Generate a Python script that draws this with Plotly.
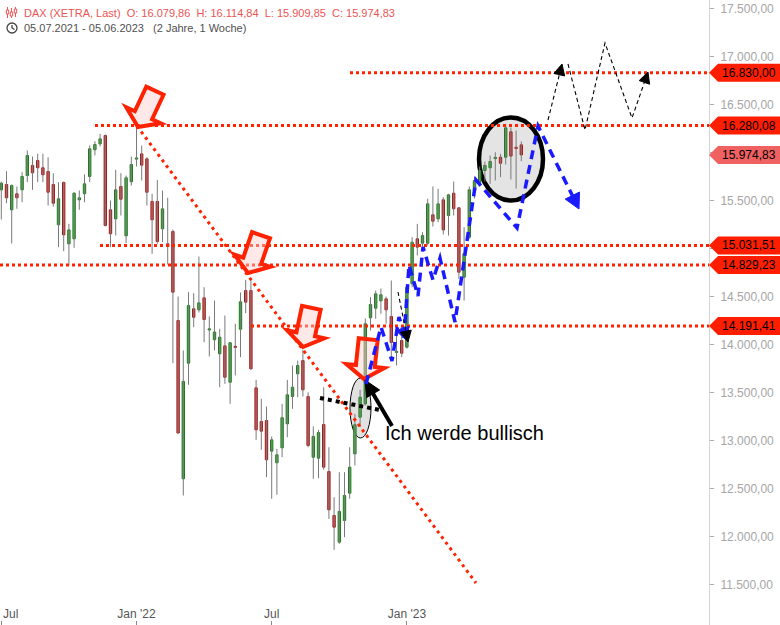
import math
import pandas as pd
import plotly.graph_objects as go

# ---------------- data (weekly DAX candles) ----------------
week_start = "2021-07-05"
opens = [15611, 15667, 15403, 15570, 15611, 15760, 15865, 15917, 15841, 15802,
         15667, 15247, 15688, 15049, 15101, 15507, 15570, 15750, 16028, 16090,
         16177, 15403, 15309, 15646, 15132, 15695, 15931, 15986, 15934, 15490,
         15490, 15205, 15049, 15177, 14250, 12601, 13805, 14372, 14361, 14486,
         14151, 14049, 13903, 13986, 13607, 13974, 14159, 14562, 14562, 13549,
         13198, 13208, 12889, 12768, 12924, 13174, 13458, 13695, 13833, 13458,
         12826, 12816, 13167, 12677, 12219, 11941, 12167, 12451, 12861, 13243,
         13382, 14278, 14378, 14455, 14476, 14292, 13917, 14042, 13972, 14632,
         15101, 15055, 15055, 15351, 15309, 15507, 15344, 15576, 15424, 14701,
         15118, 15604, 15691, 15812, 15841, 15937, 15951, 15951, 16216, 16052,
         16079.86]
highs = [15698, 15805, 15667, 15646, 15795, 16021, 15958, 15987, 15987, 15951,
         15784, 15691, 15698, 15257, 15586, 15604, 15771, 16073, 16118, 16194,
         16187, 15500, 15820, 15784, 15760, 15958, 16280, 16073, 15951, 15570,
         15715, 15604, 15528, 15198, 14500, 13938, 14545, 14534, 14917, 14597,
         14292, 14458, 14163, 14302, 14024, 14216, 14542, 14674, 14684, 13632,
         13434, 13354, 13042, 12913, 13382, 13632, 13781, 13833, 13945, 13503,
         13146, 13111, 13555, 12930, 12409, 12670, 12670, 12930, 13278, 13528,
         14271, 14493, 14562, 14583, 14500, 14667, 14115, 14115, 14615, 15118,
         15257, 15170, 15518, 15646, 15622, 15534, 15570, 15698, 15430, 15222,
         15646, 15750, 15854, 15906, 15969, 16003, 15986, 16299, 16260, 16229,
         16114.84]
lows = [15302, 15472, 15052, 15414, 15482, 15691, 15611, 15691, 15691, 15448,
        15437, 15014, 14972, 14823, 15007, 15403, 15482, 15691, 15969, 16062,
        15229, 15014, 15135, 15344, 15055, 15656, 15854, 15708, 15448, 14945,
        15049, 15066, 14833, 13805, 13073, 12427, 13580, 14180, 14333, 14024,
        13875, 13938, 13555, 13590, 13382, 13677, 13868, 14326, 13736, 13007,
        12903, 12618, 12393, 12434, 12826, 13034, 13330, 13451, 13458, 12930,
        12601, 12607, 12695, 12184, 11861, 11924, 11993, 12393, 12740, 13139,
        13365, 14146, 14268, 14320, 14216, 13833, 13781, 13868, 13958, 14597,
        14927, 15014, 15031, 15229, 15274, 15146, 15135, 15344, 14684, 14458,
        15101, 15521, 15646, 15698, 15674, 15708, 15743, 15875, 15719, 15625,
        15909.85]
closes = [15680, 15528, 15656, 15528, 15750, 15969, 15789, 15841, 15768, 15586,
          15472, 15518, 15142, 15194, 15576, 15528, 15674, 16038, 16083, 16142,
          15240, 15153, 15611, 15513, 15736, 15875, 15937, 15868, 15586, 15299,
          15073, 15413, 15021, 14545, 13078, 13615, 14406, 14284, 14434, 14260,
          14156, 14130, 14076, 13659, 14018, 13969, 14445, 14441, 13747, 13111,
          13097, 12799, 13007, 12851, 13237, 13476, 13555, 13781, 13528, 12948,
          13042, 13083, 12722, 12278, 12097, 12261, 12427, 12722, 13164, 13451,
          14216, 14417, 14528, 14518, 14361, 14021, 13927, 13909, 14597, 15065,
          15014, 15135, 15465, 15284, 15465, 15194, 15559, 15414, 14753, 14945,
          15611, 15708, 15812, 15865, 15906, 15948, 15888, 16257, 15963, 16042,
          15974.83]

levels = [16830.00, 16280.08, 15974.83, 15031.51, 14829.23, 14191.41]
y_tick_values = list(range(11500, 18000, 500))
x_tick_dates = ["2021-07-05", "2022-01-03", "2022-07-04", "2023-01-02"]
x_tick_text = ["Jul", "Jan '22", "Jul", "Jan '23"]
period_text = "05.07.2021 - 05.06.2023"
period_len = "(2 Jahre, 1 Woche)"
note_text = "Ich werde bullisch"

# ---------------- helpers ----------------
def de(v):
    s = f"{v:,.2f}"
    return s.replace(",", "X").replace(".", ",").replace("X", ".")

dates = pd.date_range(week_start, periods=len(opens), freq="7D")

W_PLOT, H_PLOT = 709, 625          # plot area in pixels
PX_PER_DAY = 5.2 / 7.0
x_start = pd.Timestamp(week_start) - pd.Timedelta(days=1.3 / PX_PER_DAY)
x_end = x_start + pd.Timedelta(days=W_PLOT / PX_PER_DAY)
Y_TOP = 17500 + 8.5 / 0.096
Y_BOT = Y_TOP - H_PLOT / 0.096
PRICE_PER_PX = 1 / 0.096


def P(x, y):
    return x / W_PLOT, 1 - y / H_PLOT


def path_of(points, close=False):
    parts = []
    for i, (x, y) in enumerate(points):
        px, py = P(x, y)
        parts.append(("M" if i == 0 else "L") + f"{px:.5f},{py:.5f}")
    s = " ".join(parts)
    return s + (" Z" if close else "")


def arrow_head(tip, frm, length, half):
    dx, dy = tip[0] - frm[0], tip[1] - frm[1]
    n = math.hypot(dx, dy)
    ux, uy = dx / n, dy / n
    bx, by = tip[0] - length * ux, tip[1] - length * uy
    vx, vy = -uy, ux
    return [tip, (bx + half * vx, by + half * vy), (bx - half * vx, by - half * vy)], (bx, by)


shapes = []
annotations = []

# ---------------- ellipses (below the candles) ----------------
for cx, cy, rx, ry, fill, lw in [(511, 159, 32, 41.5, "#e4e4e4", 4.5),
                                 (360.5, 408, 10.5, 30, "rgba(205,205,205,0.6)", 1)]:
    x0, y1 = P(cx - rx, cy - ry)
    x1, y0 = P(cx + rx, cy + ry)
    shapes.append(dict(type="circle", xref="paper", yref="paper", x0=x0, x1=x1, y0=y0, y1=y1,
                       fillcolor=fill, line=dict(color="black", width=lw), layer="below"))

# ---------------- horizontal support / resistance lines ----------------
line_start_px = {16830.00: 350, 16280.08: 95, 15031.51: 100, 14829.23: 0, 14191.41: 251}
for lv, sx in line_start_px.items():
    shapes.append(dict(type="line", xref="paper", yref="y", x0=sx / W_PLOT, x1=1, y0=lv, y1=lv,
                       line=dict(color="#ff2200", width=3, dash="dot")))

# diagonal trend line
x0, y0 = P(137, 126)
x1, y1 = P(476, 583)
shapes.append(dict(type="line", xref="paper", yref="paper", x0=x0, y0=y0, x1=x1, y1=y1,
                   line=dict(color="#ff2200", width=3, dash="3px,4px")))

# ---------------- red block arrows ----------------
for tx, ty, ang in [(138, 127, 25), (248, 273, 19), (303, 347, 12), (364, 379, 6)]:
    a = math.radians(ang)
    ux, uy = -math.sin(a), math.cos(a)
    vx, vy = math.cos(a), math.sin(a)
    bx, by = tx - 13 * ux, ty - 13 * uy
    sx, sy = tx - 40 * ux, ty - 40 * uy
    pts = [(tx, ty), (bx + 19 * vx, by + 19 * vy), (bx + 9.5 * vx, by + 9.5 * vy),
           (sx + 9.5 * vx, sy + 9.5 * vy), (sx - 9.5 * vx, sy - 9.5 * vy),
           (bx - 9.5 * vx, by - 9.5 * vy), (bx - 19 * vx, by - 19 * vy)]
    shapes.append(dict(type="path", xref="paper", yref="paper", path=path_of(pts, True),
                       fillcolor="rgba(255,205,205,0.45)", line=dict(color="#ff2200", width=4)))

# ---------------- black dotted line & black arrow ----------------
x0, y0 = P(320, 398)
x1, y1 = P(380, 410)
shapes.append(dict(type="line", xref="paper", yref="paper", x0=x0, y0=y0, x1=x1, y1=y1,
                   line=dict(color="black", width=4, dash="4px,4px")))
head, base = arrow_head((365, 380), (392, 426), 16, 7.5)
shapes.append(dict(type="path", xref="paper", yref="paper", path=path_of([(392, 426), base]),
                   line=dict(color="black", width=4)))
shapes.append(dict(type="path", xref="paper", yref="paper", path=path_of(head, True),
                   fillcolor="black", line=dict(color="black", width=1)))

# ---------------- blue dashed zig-zags ----------------
BLUE = "#1a1aff"
for pts, hl, hw in [
    ([(366, 384), (381, 327), (392, 361), (399, 317), (406, 340)], 12, 7),
    ([(404, 338), (409, 265), (418, 296), (423, 247), (433, 280), (440, 258), (455, 322),
      (476, 180), (517, 228), (538, 126), (579, 209)], 15, 8),
]:
    head, base = arrow_head(pts[-1], pts[-2], hl, hw)
    shapes.append(dict(type="path", xref="paper", yref="paper", path=path_of(pts[:-1] + [base]),
                       line=dict(color=BLUE, width=3.5, dash="9px,6px")))
    shapes.append(dict(type="path", xref="paper", yref="paper", path=path_of(head, True),
                       fillcolor=BLUE, line=dict(color=BLUE, width=1)))

# ---------------- thin black dashed projections ----------------
for pts in [
    [(398, 292), (408, 342)],
    [(548, 120), (562, 64)],
    [(568, 64), (585, 130), (605, 43), (632, 118), (648, 72)],
]:
    head, base = arrow_head(pts[-1], pts[-2], 11, 5.5)
    shapes.append(dict(type="path", xref="paper", yref="paper", path=path_of(pts[:-1] + [base]),
                       line=dict(color="black", width=1.1, dash="4px,3px")))
    shapes.append(dict(type="path", xref="paper", yref="paper", path=path_of(head, True),
                       fillcolor="black", line=dict(color="black", width=1)))

# ---------------- price tags on the right ----------------
half_h = 9 * PRICE_PER_PX
for lv in levels:
    col = "#f06262" if lv == closes[-1] else "#ff1e00"
    pts = [(709.0, 0), (718.0, -1), (780.0, -1), (780.0, 1), (718.0, 1)]
    path = " ".join(("M" if i == 0 else "L") + f"{x / W_PLOT:.5f},{lv + s * half_h:.3f}"
                    for i, (x, s) in enumerate(pts)) + " Z"
    shapes.append(dict(type="path", xref="paper", yref="y", path=path,
                       fillcolor=col, line=dict(width=0)))
    annotations.append(dict(x=721 / W_PLOT, y=lv, xref="paper", yref="y", text=de(lv),
                            showarrow=False, xanchor="left", yanchor="middle", borderpad=0,
                            font=dict(size=12, color="black", family="Liberation Sans, Arial")))

# ---------------- header ----------------
NB = "\u00a0"
hdr1 = (f"DAX (XETRA, Last){NB} O: {de(opens[-1])}{NB} H: {de(highs[-1])}"
        f"{NB} L: {de(lows[-1])}{NB} C: {de(closes[-1])}")
hdr2 = f"{period_text}{NB}{NB} {period_len}"
for txt, yy, col in [(hdr1, 12.5, "#ec5454"), (hdr2, 28.5, "#505050")]:
    ax, ay = P(22, yy)
    annotations.append(dict(x=ax, y=ay, xref="paper", yref="paper", text=txt, showarrow=False,
                            xanchor="left", yanchor="middle",
                            font=dict(size=11, color=col, family="Liberation Sans, Arial")))
# candle icon
for cx, top, bot, b0, b1 in [(7.5, 7, 18, 10, 14), (11.5, 8, 18, 12, 16), (15.5, 7, 17, 9, 13)]:
    shapes.append(dict(type="path", xref="paper", yref="paper",
                       path=path_of([(cx, top), (cx, bot)]), line=dict(color="#ec5454", width=1)))
    shapes.append(dict(type="path", xref="paper", yref="paper",
                       path=path_of([(cx - 1.2, b0), (cx + 1.2, b0), (cx + 1.2, b1), (cx - 1.2, b1)], True),
                       fillcolor="white", line=dict(color="#ec5454", width=1)))
# clock icon
x0, y1 = P(7, 23)
x1, y0 = P(17, 33)
shapes.append(dict(type="circle", xref="paper", yref="paper", x0=x0, x1=x1, y0=y0, y1=y1,
                   line=dict(color="#444", width=1.3)))
shapes.append(dict(type="path", xref="paper", yref="paper",
                   path=path_of([(12, 25), (12, 28), (14.5, 29.5)]), line=dict(color="#444", width=1.3)))

# note text
ax, ay = P(383, 433)
annotations.append(dict(x=ax, y=ay, xref="paper", yref="paper", text=note_text, showarrow=False,
                        xanchor="left", yanchor="middle",
                        font=dict(size=20, color="black", family="Liberation Sans, Arial")))
# first x label, shifted right so it stays inside the chart
ax, ay = P(1, 614)
annotations.append(dict(x=ax, y=ay, xref="paper", yref="paper", text=x_tick_text[0], showarrow=False,
                        xanchor="left", yanchor="middle",
                        font=dict(size=12, color="#555", family="Liberation Sans, Arial")))

# ---------------- traces ----------------
wx, wy = [], []
for d, h, l in zip(dates, highs, lows):
    wx += [d, d, None]
    wy += [l, h, None]

fig = go.Figure()
fig.add_trace(go.Scatter(x=wx, y=wy, mode="lines", line=dict(color="#7a7a7a", width=1),
                         hoverinfo="skip"))
min_h = 1.2 * PRICE_PER_PX
for up, fill, edge in [(True, "#3fb53f", "#1f7a1f"), (False, "#e23b3b", "#a31c1c")]:
    xs, base, hgt = [], [], []
    for d, o, c in zip(dates, opens, closes):
        if (c >= o) == up:
            xs.append(d)
            base.append(min(o, c))
            hgt.append(max(abs(c - o), min_h))
    fig.add_trace(go.Bar(x=xs, y=hgt, base=base, width=3.2 * 86400000,
                         marker=dict(color=fill, line=dict(color=edge, width=1))))

fig.update_layout(
    width=780, height=625,
    margin=dict(l=0, r=71, t=0, b=0),
    plot_bgcolor="white", paper_bgcolor="white",
    showlegend=False, barmode="overlay",
    shapes=shapes, annotations=annotations,
    font=dict(family="Liberation Sans, Arial"),
    xaxis=dict(type="date", range=[x_start, x_end], tickvals=x_tick_dates,
               ticktext=[""] + x_tick_text[1:], ticks="inside", ticklen=4, tickcolor="#888",
               ticklabelposition="inside", tickfont=dict(size=12, color="#555"),
               showgrid=False, zeroline=False, showline=False),
    yaxis=dict(side="right", range=[Y_BOT, Y_TOP], tickvals=y_tick_values,
               ticktext=[de(v) for v in y_tick_values], ticks="outside", ticklen=4,
               tickcolor="#aaa", tickfont=dict(size=12, color="#a6a6a6"),
               showgrid=False, zeroline=False, showline=True, linecolor="#d4d4d4",
               ticklabelstandoff=4, automargin=False),
)

fig.write_html(
    "out.html",
    config={"displayModeBar": False},
    post_script="document.body.style.margin='0';document.body.style.overflow='hidden';",
)
